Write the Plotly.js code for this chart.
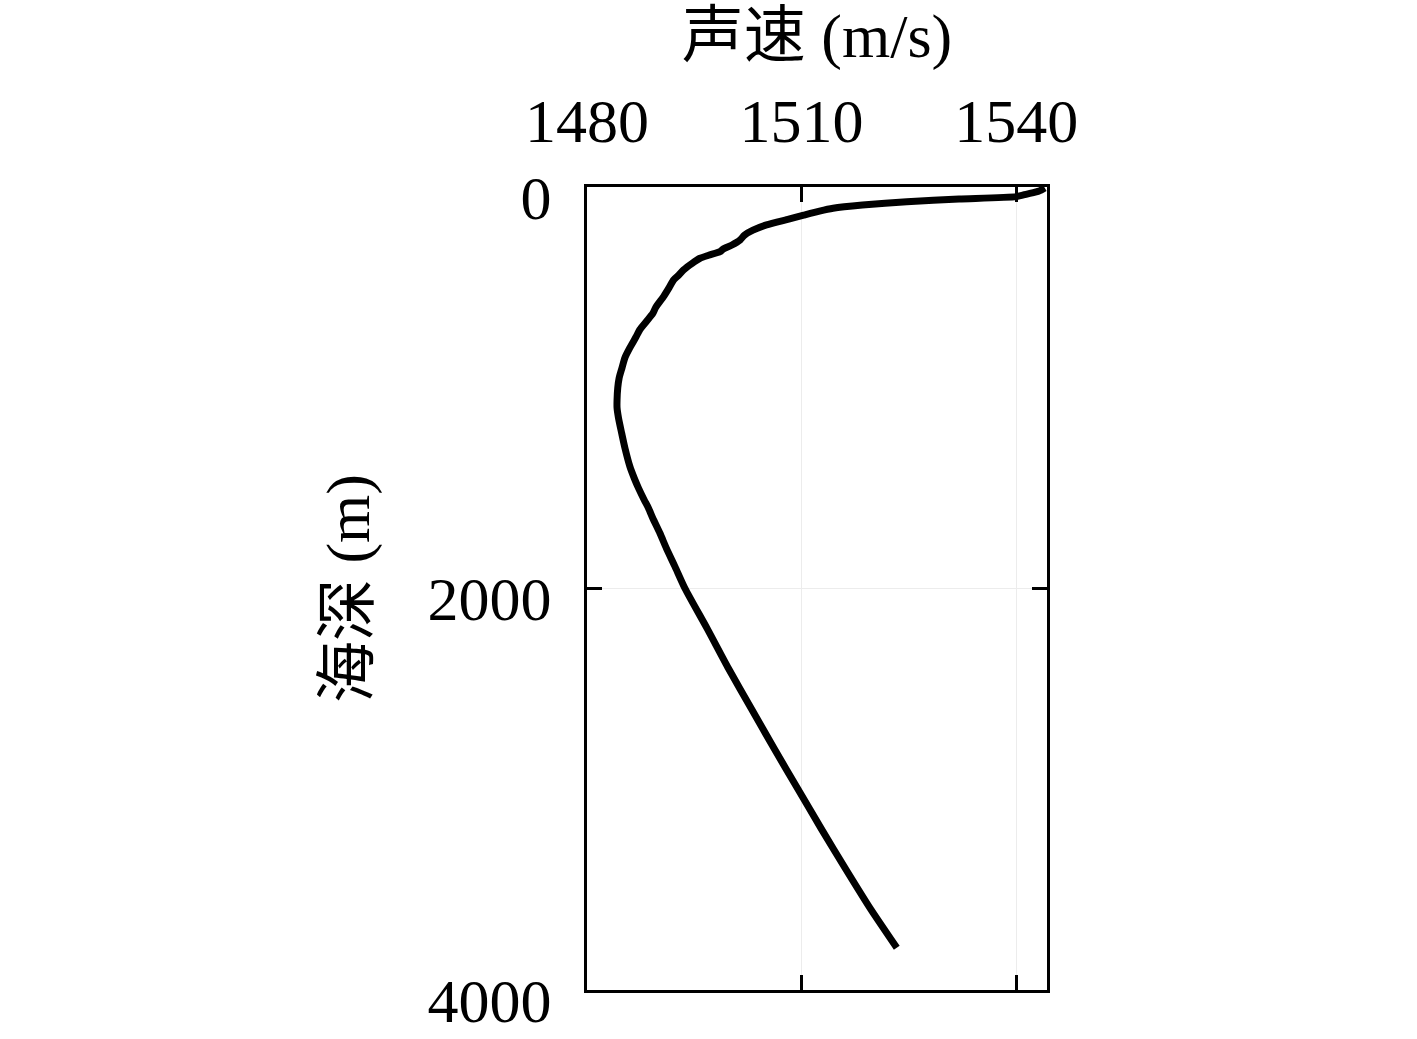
<!DOCTYPE html>
<html>
<head>
<meta charset="utf-8">
<script src="https://cdn.plot.ly/plotly-3.0.1.min.js"></script>
<style>
  html, body { margin: 0; padding: 0; background: #fff; }
  #chart { width: 1417px; height: 1039px; }
</style>
</head>
<body>
<div id="chart"></div>
<script>
// sound speed profile
const depth = [5, 20, 35, 48, 60, 73, 90, 106, 120, 140, 160, 189, 215, 240, 264, 290, 310, 322, 340, 355,
  380, 413, 440, 463, 500, 546, 600, 630, 670, 710, 750, 800, 850, 900, 950, 1000, 1061, 1100, 1150, 1227,
  1300, 1393, 1450, 1500, 1559, 1600, 1650, 1725, 1800, 1891, 2000, 2200, 2400, 2600, 2800,
  3000, 3200, 3400, 3600, 3790];
const speed = [1544.0, 1543.2, 1541.5, 1540.0, 1532.0, 1524.7, 1518.5, 1514.4, 1512.5, 1510.3, 1508.2, 1505.1,
  1503.2, 1502.0, 1501.4, 1500.2, 1499.0, 1498.6, 1497.0, 1495.8, 1494.7, 1493.5, 1492.8, 1492.1, 1491.5,
  1490.7, 1489.6, 1489.2, 1488.3, 1487.4, 1486.8, 1486.0, 1485.3, 1484.9, 1484.5, 1484.3, 1484.2, 1484.2,
  1484.4, 1484.85, 1485.3, 1486.0, 1486.6, 1487.2, 1488.0, 1488.6, 1489.2, 1490.2, 1491.1, 1492.3, 1493.7,
  1496.8, 1499.8, 1503.0, 1506.2, 1509.5, 1512.8, 1516.2, 1519.7, 1523.3];

const xTicks = [1480, 1510, 1540];
const yTicks = [0, 2000, 4000];

const fontFam = '"Liberation Serif", "Noto Sans CJK SC", serif';

const trace = {
  x: speed,
  y: depth,
  type: 'scatter',
  mode: 'lines',
  line: { color: '#000', width: 7, shape: 'spline', smoothing: 0.6 },
  showlegend: false,
  cliponaxis: false
};

const layout = {
  width: 1417,
  height: 1039,
  margin: { l: 587, r: 370, t: 187, b: 49 },
  paper_bgcolor: '#fff',
  plot_bgcolor: '#fff',
  font: { family: fontFam, color: '#000', size: 62 },
  xaxis: {
    side: 'top',
    range: [1480, 1544.3],
    tickvals: xTicks,
    ticktext: xTicks.map(String),
    ticks: 'inside',
    ticklen: 15,
    tickwidth: 3,
    tickcolor: '#000',
    showline: true,
    linecolor: '#000',
    linewidth: 3,
    mirror: 'allticks',
    showgrid: true,
    gridcolor: '#ececec',
    gridwidth: 1,
    zeroline: false,
    ticklabelstandoff: 17,
    tickfont: { family: fontFam, size: 62 },
    title: { text: '声速 (m/s)', font: { family: fontFam, size: 62 }, standoff: 10 }
  },
  yaxis: {
    range: [4000, 0],
    tickvals: yTicks,
    ticktext: yTicks.map(String),
    ticks: 'inside',
    ticklen: 15,
    tickwidth: 3,
    tickcolor: '#000',
    showline: true,
    linecolor: '#000',
    linewidth: 3,
    mirror: 'allticks',
    showgrid: true,
    gridcolor: '#ececec',
    gridwidth: 1,
    zeroline: false,
    ticklabelstandoff: 20,
    ticklabelshift: -10,
    tickfont: { family: fontFam, size: 62 },
    title: { text: '海深 (m)', font: { family: fontFam, size: 62 }, standoff: 38 }
  }
};

Plotly.newPlot('chart', [trace], layout, { displayModeBar: false, staticPlot: true });
</script>
</body>
</html>
